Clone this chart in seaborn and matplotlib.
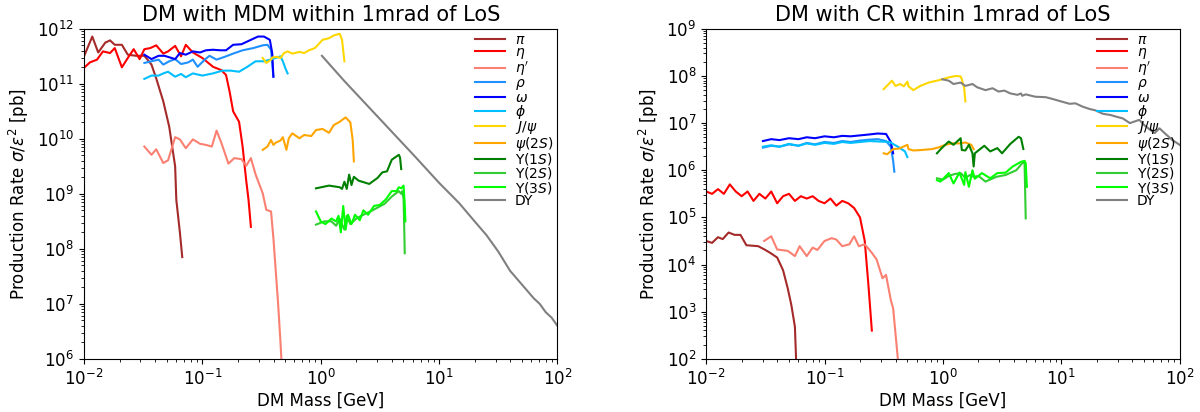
import numpy as np
import pandas as pd
import seaborn as sns
import matplotlib.pyplot as plt

# values, stored as log10(mass / GeV) and log10(rate / pb)
labels = [r'$\pi$', r'$\eta$', r"$\eta'$", r'$\rho$', r'$\omega$', r'$\phi$', r'$J/\psi$',
          r'$\psi(2S)$', r'$\Upsilon(1S)$', r'$\Upsilon(2S)$', r'$\Upsilon(3S)$', 'DY']
colors = ['brown', 'red', 'salmon', 'dodgerblue', 'blue', 'deepskyblue', 'gold',
          'orange', 'green', 'limegreen', 'lime', 'grey']

# ---- DM with MDM ----
mdm_pi_m = [-2.0, -1.93, -1.88, -1.82, -1.78, -1.74, -1.68, -1.63, -1.56, -1.49, -1.43, -1.39, -1.33, -1.28, -1.23, -1.22, -1.19, -1.17]
mdm_pi_r = [11.50, 11.86, 11.57, 11.75, 11.79, 11.71, 11.71, 11.53, 11.51, 11.51, 11.35, 11.10, 10.68, 10.22, 9.50, 8.89, 8.3, 7.85]
mdm_eta_m = [-2.0, -1.95, -1.89, -1.84, -1.78, -1.74, -1.68, -1.63, -1.58, -1.53, -1.49, -1.44, -1.39, -1.33, -1.29, -1.23, -1.18, -1.14, -1.08, -1.0, -0.91, -0.84, -0.80, -0.77, -0.74, -0.69, -0.66, -0.63, -0.61, -0.59]
mdm_eta_r = [11.29, 11.39, 11.44, 11.59, 11.56, 11.65, 11.30, 11.47, 11.63, 11.45, 11.63, 11.65, 11.70, 11.55, 11.59, 11.69, 11.50, 11.71, 11.57, 11.47, 11.31, 11.25, 11.16, 10.86, 10.50, 10.31, 9.86, 9.25, 8.89, 8.4]
mdm_etap_m = [-1.49, -1.43, -1.39, -1.33, -1.29, -1.23, -1.19, -1.14, -1.08, -1.02, -0.97, -0.92, -0.88, -0.84, -0.78, -0.73, -0.67, -0.63, -0.59, -0.55, -0.49, -0.46, -0.42, -0.40, -0.38, -0.36, -0.34, -0.33]
mdm_etap_r = [9.86, 9.71, 9.81, 9.56, 9.61, 10.03, 9.99, 9.83, 9.99, 9.91, 9.89, 9.86, 10.15, 9.93, 9.55, 9.65, 9.63, 9.51, 9.65, 9.35, 9.01, 8.71, 8.68, 8.2, 7.6, 7.0, 6.3, 5.9]
mdm_rho_m = [-1.49, -1.43, -1.37, -1.33, -1.28, -1.23, -1.18, -1.12, -1.08, -1.04, -0.98, -0.94, -0.88, -0.80, -0.74, -0.66, -0.57, -0.49, -0.45, -0.42, -0.41, -0.40]
mdm_rho_r = [11.38, 11.41, 11.44, 11.35, 11.41, 11.45, 11.36, 11.39, 11.44, 11.31, 11.44, 11.51, 11.44, 11.50, 11.55, 11.61, 11.65, 11.70, 11.71, 11.62, 11.38, 11.13]
mdm_omega_m = [-1.49, -1.43, -1.37, -1.32, -1.23, -1.19, -1.14, -1.08, -1.02, -0.97, -0.91, -0.85, -0.80, -0.74, -0.67, -0.60, -0.53, -0.48, -0.43, -0.41, -0.40]
mdm_omega_r = [11.53, 11.45, 11.51, 11.51, 11.45, 11.56, 11.53, 11.59, 11.57, 11.61, 11.62, 11.61, 11.61, 11.71, 11.72, 11.79, 11.86, 11.86, 11.80, 11.56, 11.13]
mdm_phi_m = [-1.49, -1.43, -1.37, -1.33, -1.29, -1.23, -1.18, -1.14, -1.08, -1.00, -0.91, -0.83, -0.76, -0.69, -0.62, -0.55, -0.48, -0.41, -0.34, -0.32, -0.30, -0.28]
mdm_phi_r = [11.09, 11.15, 11.15, 11.19, 11.22, 11.13, 11.18, 11.12, 11.19, 11.15, 11.19, 11.24, 11.24, 11.22, 11.31, 11.41, 11.41, 11.45, 11.50, 11.41, 11.29, 11.19]
mdm_jpsi_m = [-0.49, -0.46, -0.42, -0.41, -0.37, -0.34, -0.31, -0.28, -0.24, -0.18, -0.14, -0.10, -0.05, -0.01, 0.015, 0.07, 0.11, 0.16, 0.18, 0.20]
mdm_jpsi_r = [11.47, 11.38, 11.44, 11.48, 11.49, 11.47, 11.56, 11.59, 11.55, 11.58, 11.56, 11.61, 11.65, 11.74, 11.80, 11.83, 11.88, 11.91, 11.80, 11.41]
mdm_psi2s_m = [-0.49, -0.45, -0.42, -0.40, -0.38, -0.34, -0.32, -0.29, -0.27, -0.24, -0.18, -0.14, -0.08, -0.04, 0.015, 0.07, 0.11, 0.16, 0.21, 0.25, 0.27, 0.28]
mdm_psi2s_r = [9.80, 9.86, 9.98, 9.89, 9.93, 9.97, 10.03, 9.80, 10.01, 10.10, 10.01, 10.07, 10.05, 10.16, 10.18, 10.11, 10.25, 10.31, 10.39, 10.30, 9.98, 9.59]
mdm_ups1_m = [-0.04, 0.07, 0.16, 0.18, 0.20, 0.22, 0.24, 0.26, 0.28, 0.32, 0.41, 0.48, 0.52, 0.56, 0.60, 0.66, 0.67, 0.68]
mdm_ups1_r = [9.10, 9.15, 9.12, 9.09, 9.22, 9.09, 9.35, 9.16, 9.31, 9.24, 9.18, 9.29, 9.39, 9.41, 9.62, 9.71, 9.66, 9.45]
mdm_ups2_m = [-0.04, 0.03, 0.09, 0.13, 0.16, 0.20, 0.22, 0.25, 0.30, 0.36, 0.42, 0.48, 0.54, 0.60, 0.66, 0.68, 0.69, 0.70, 0.71]
mdm_ups2_r = [8.44, 8.50, 8.50, 8.42, 8.55, 8.35, 8.60, 8.45, 8.55, 8.62, 8.68, 8.75, 8.82, 8.95, 9.05, 9.00, 9.05, 8.9, 7.92]
mdm_ups3_m = [-0.04, 0.0, 0.04, 0.09, 0.13, 0.15, 0.17, 0.19, 0.21, 0.23, 0.26, 0.29, 0.33, 0.36, 0.40, 0.45, 0.50, 0.55, 0.60, 0.64, 0.66, 0.68, 0.70, 0.71, 0.715]
mdm_ups3_r = [8.68, 8.5, 8.45, 8.55, 8.50, 8.6, 8.3, 8.78, 8.35, 8.62, 8.45, 8.62, 8.52, 8.70, 8.62, 8.78, 8.80, 8.90, 9.05, 9.05, 9.12, 9.10, 9.15, 8.8, 8.5]
mdm_dy_m = [0.01, 0.2, 0.4, 0.6, 0.8, 1.0, 1.17, 1.3, 1.4, 1.5, 1.6, 1.7, 1.8, 1.85, 1.9, 1.95, 2.0]
mdm_dy_r = [11.51, 11.05, 10.59, 10.13, 9.67, 9.2, 8.83, 8.5, 8.25, 7.95, 7.6, 7.35, 7.1, 7.0, 6.85, 6.75, 6.6]

# ---- DM with CR ----
cr_pi_m = [-2.0, -1.95, -1.90, -1.86, -1.81, -1.76, -1.71, -1.66, -1.56, -1.50, -1.46, -1.40, -1.35, -1.31, -1.28, -1.25, -1.24]
cr_pi_r = [4.50, 4.46, 4.58, 4.54, 4.68, 4.63, 4.63, 4.41, 4.39, 4.31, 4.25, 4.15, 3.88, 3.49, 3.14, 2.68, 1.99]
cr_eta_m = [-2.0, -1.95, -1.9, -1.85, -1.8, -1.75, -1.7, -1.65, -1.6, -1.55, -1.5, -1.45, -1.4, -1.35, -1.3, -1.25, -1.2, -1.15, -1.1, -1.05, -1.0, -0.95, -0.9, -0.85, -0.8, -0.75, -0.7, -0.66, -0.63, -0.6]
cr_eta_r = [5.55, 5.5, 5.6, 5.5, 5.7, 5.55, 5.45, 5.55, 5.35, 5.5, 5.4, 5.55, 5.3, 5.45, 5.5, 5.35, 5.45, 5.4, 5.45, 5.35, 5.3, 5.4, 5.25, 5.35, 5.3, 5.2, 5.0, 4.5, 3.6, 2.6]
cr_etap_m = [-1.51, -1.45, -1.40, -1.31, -1.25, -1.21, -1.15, -1.10, -1.06, -1.00, -0.94, -0.90, -0.85, -0.79, -0.75, -0.71, -0.66, -0.60, -0.56, -0.51, -0.48, -0.44, -0.42, -0.38]
cr_etap_r = [4.50, 4.60, 4.32, 4.29, 4.18, 4.39, 4.18, 4.36, 4.31, 4.50, 4.56, 4.53, 4.39, 4.43, 4.60, 4.39, 4.43, 4.25, 4.11, 3.71, 3.78, 3.25, 3.07, 1.99]
cr_rho_m = [-1.52, -1.45, -1.38, -1.3, -1.22, -1.15, -1.08, -1.0, -0.92, -0.85, -0.78, -0.7, -0.62, -0.55, -0.48, -0.44, -0.42, -0.41]
cr_rho_r = [6.48, 6.52, 6.5, 6.55, 6.52, 6.58, 6.55, 6.6, 6.58, 6.62, 6.6, 6.63, 6.65, 6.66, 6.62, 6.5, 6.2, 5.97]
cr_omega_m = [-1.52, -1.45, -1.38, -1.3, -1.22, -1.15, -1.08, -1.0, -0.92, -0.85, -0.78, -0.7, -0.62, -0.55, -0.48, -0.44, -0.42]
cr_omega_r = [6.62, 6.66, 6.64, 6.68, 6.66, 6.7, 6.68, 6.72, 6.7, 6.73, 6.72, 6.74, 6.76, 6.78, 6.77, 6.6, 6.36]
cr_phi_m = [-1.52, -1.45, -1.38, -1.3, -1.22, -1.15, -1.08, -1.0, -0.92, -0.85, -0.78, -0.7, -0.62, -0.54, -0.45, -0.38, -0.32, -0.30]
cr_phi_r = [6.5, 6.53, 6.5, 6.56, 6.52, 6.57, 6.54, 6.58, 6.56, 6.6, 6.58, 6.6, 6.62, 6.61, 6.6, 6.5, 6.4, 6.28]
cr_jpsi_m = [-0.50, -0.43, -0.40, -0.36, -0.33, -0.30, -0.29, -0.25, -0.19, -0.12, -0.02, 0.05, 0.11, 0.15, 0.16, 0.18, 0.19]
cr_jpsi_r = [7.72, 7.90, 7.79, 7.83, 7.78, 7.88, 7.78, 7.70, 7.79, 7.86, 7.92, 7.97, 8.00, 7.99, 7.93, 7.74, 7.46]
cr_psi2s_m = [-0.50, -0.47, -0.42, -0.37, -0.30, -0.29, -0.25, -0.18, -0.09, -0.03, 0.02, 0.08, 0.14, 0.19, 0.24, 0.26]
cr_psi2s_r = [6.36, 6.34, 6.45, 6.46, 6.54, 6.45, 6.42, 6.43, 6.45, 6.49, 6.54, 6.57, 6.57, 6.59, 6.54, 6.45]
cr_ups1_m = [-0.05, -0.01, 0.05, 0.09, 0.15, 0.16, 0.19, 0.22, 0.25, 0.26, 0.27, 0.35, 0.40, 0.46, 0.50, 0.57, 0.64, 0.66, 0.68]
cr_ups1_r = [6.36, 6.47, 6.61, 6.54, 6.68, 6.43, 6.42, 6.54, 6.36, 6.08, 6.36, 6.52, 6.40, 6.47, 6.36, 6.56, 6.71, 6.68, 6.45]
cr_ups2_m = [-0.05, 0.0, 0.05, 0.10, 0.15, 0.19, 0.23, 0.26, 0.30, 0.36, 0.45, 0.53, 0.62, 0.67, 0.69, 0.70]
cr_ups2_r = [5.83, 5.80, 5.88, 5.92, 5.94, 5.84, 5.90, 5.86, 5.88, 5.76, 5.86, 5.90, 6.00, 6.15, 6.17, 4.98]
cr_ups3_m = [-0.05, -0.02, 0.05, 0.09, 0.14, 0.18, 0.19, 0.22, 0.25, 0.27, 0.33, 0.40, 0.46, 0.53, 0.59, 0.66, 0.69, 0.70, 0.71]
cr_ups3_r = [5.79, 5.76, 5.94, 5.72, 5.95, 5.69, 5.96, 5.65, 6.00, 5.82, 5.94, 5.83, 5.94, 5.95, 6.08, 6.18, 6.20, 6.15, 5.65]
cr_dy_m = [-0.005, 0.05, 0.09, 0.15, 0.19, 0.25, 0.29, 0.36, 0.42, 0.47, 0.52, 0.57, 0.63, 0.66, 0.67, 0.70, 0.78, 0.87, 0.93, 1.00, 1.07, 1.12, 1.18, 1.24, 1.29, 1.35, 1.42, 1.46, 1.52, 1.58, 1.66, 1.70, 1.75, 1.79, 1.83, 1.89, 1.94, 2.0]
cr_dy_r = [7.93, 7.90, 7.83, 7.86, 7.79, 7.83, 7.76, 7.70, 7.74, 7.67, 7.69, 7.63, 7.60, 7.63, 7.58, 7.61, 7.56, 7.55, 7.51, 7.46, 7.41, 7.42, 7.35, 7.30, 7.27, 7.20, 7.17, 7.14, 7.10, 7.00, 7.07, 6.96, 6.86, 6.79, 6.89, 6.75, 6.64, 6.54]

mdm_series = [(mdm_pi_m, mdm_pi_r), (mdm_eta_m, mdm_eta_r), (mdm_etap_m, mdm_etap_r),
              (mdm_rho_m, mdm_rho_r), (mdm_omega_m, mdm_omega_r), (mdm_phi_m, mdm_phi_r),
              (mdm_jpsi_m, mdm_jpsi_r), (mdm_psi2s_m, mdm_psi2s_r), (mdm_ups1_m, mdm_ups1_r),
              (mdm_ups2_m, mdm_ups2_r), (mdm_ups3_m, mdm_ups3_r), (mdm_dy_m, mdm_dy_r)]
cr_series = [(cr_pi_m, cr_pi_r), (cr_eta_m, cr_eta_r), (cr_etap_m, cr_etap_r),
             (cr_rho_m, cr_rho_r), (cr_omega_m, cr_omega_r), (cr_phi_m, cr_phi_r),
             (cr_jpsi_m, cr_jpsi_r), (cr_psi2s_m, cr_psi2s_r), (cr_ups1_m, cr_ups1_r),
             (cr_ups2_m, cr_ups2_r), (cr_ups3_m, cr_ups3_r), (cr_dy_m, cr_dy_r)]


def to_frame(series):
    frames = []
    for (m, r), lab in zip(series, labels):
        frames.append(pd.DataFrame({'mass': 10 ** np.array(m), 'rate': 10 ** np.array(r), 'meson': lab}))
    return pd.concat(frames, ignore_index=True)


fig, axes = plt.subplots(1, 2, figsize=(12, 4.12), dpi=100)
fig.subplots_adjust(left=0.07, right=0.983, bottom=0.129, top=0.93, wspace=0.314)

panels = [(axes[0], mdm_series, 'DM with MDM within 1mrad of LoS', (6, 12)),
          (axes[1], cr_series, 'DM with CR within 1mrad of LoS', (2, 9))]

for ax, series, title, (ylo, yhi) in panels:
    df = to_frame(series)
    for lab, col in zip(labels, colors):
        sub = df[df['meson'] == lab]
        sns.lineplot(data=sub, x='mass', y='rate', ax=ax, color=col, label=lab,
                     sort=False, estimator=None, linewidth=1.5)
    ax.set_xscale('log')
    ax.set_yscale('log')
    # only decades inside the view get a tick
    ax.set_xticks([10.0 ** k for k in range(-2, 3)])
    ax.set_yticks([10.0 ** k for k in range(ylo, yhi + 1)])
    ax.set_xlim(1e-2, 1e2)
    ax.set_ylim(10.0 ** ylo, 10.0 ** yhi)
    ax.set_title(title, fontsize=15)
    ax.set_xlabel('DM Mass [GeV]', fontsize=12, labelpad=2)
    ax.set_ylabel(r'Production Rate $\sigma/\epsilon^2$ [pb]', fontsize=12)
    ax.tick_params(labelsize=12)
    ax.legend(loc='upper right', frameon=False, fontsize=10, labelspacing=-0.12,
              borderaxespad=0.1, borderpad=0.2, handlelength=2.2, handletextpad=0.7)

fig.savefig('out.png', dpi=100)
